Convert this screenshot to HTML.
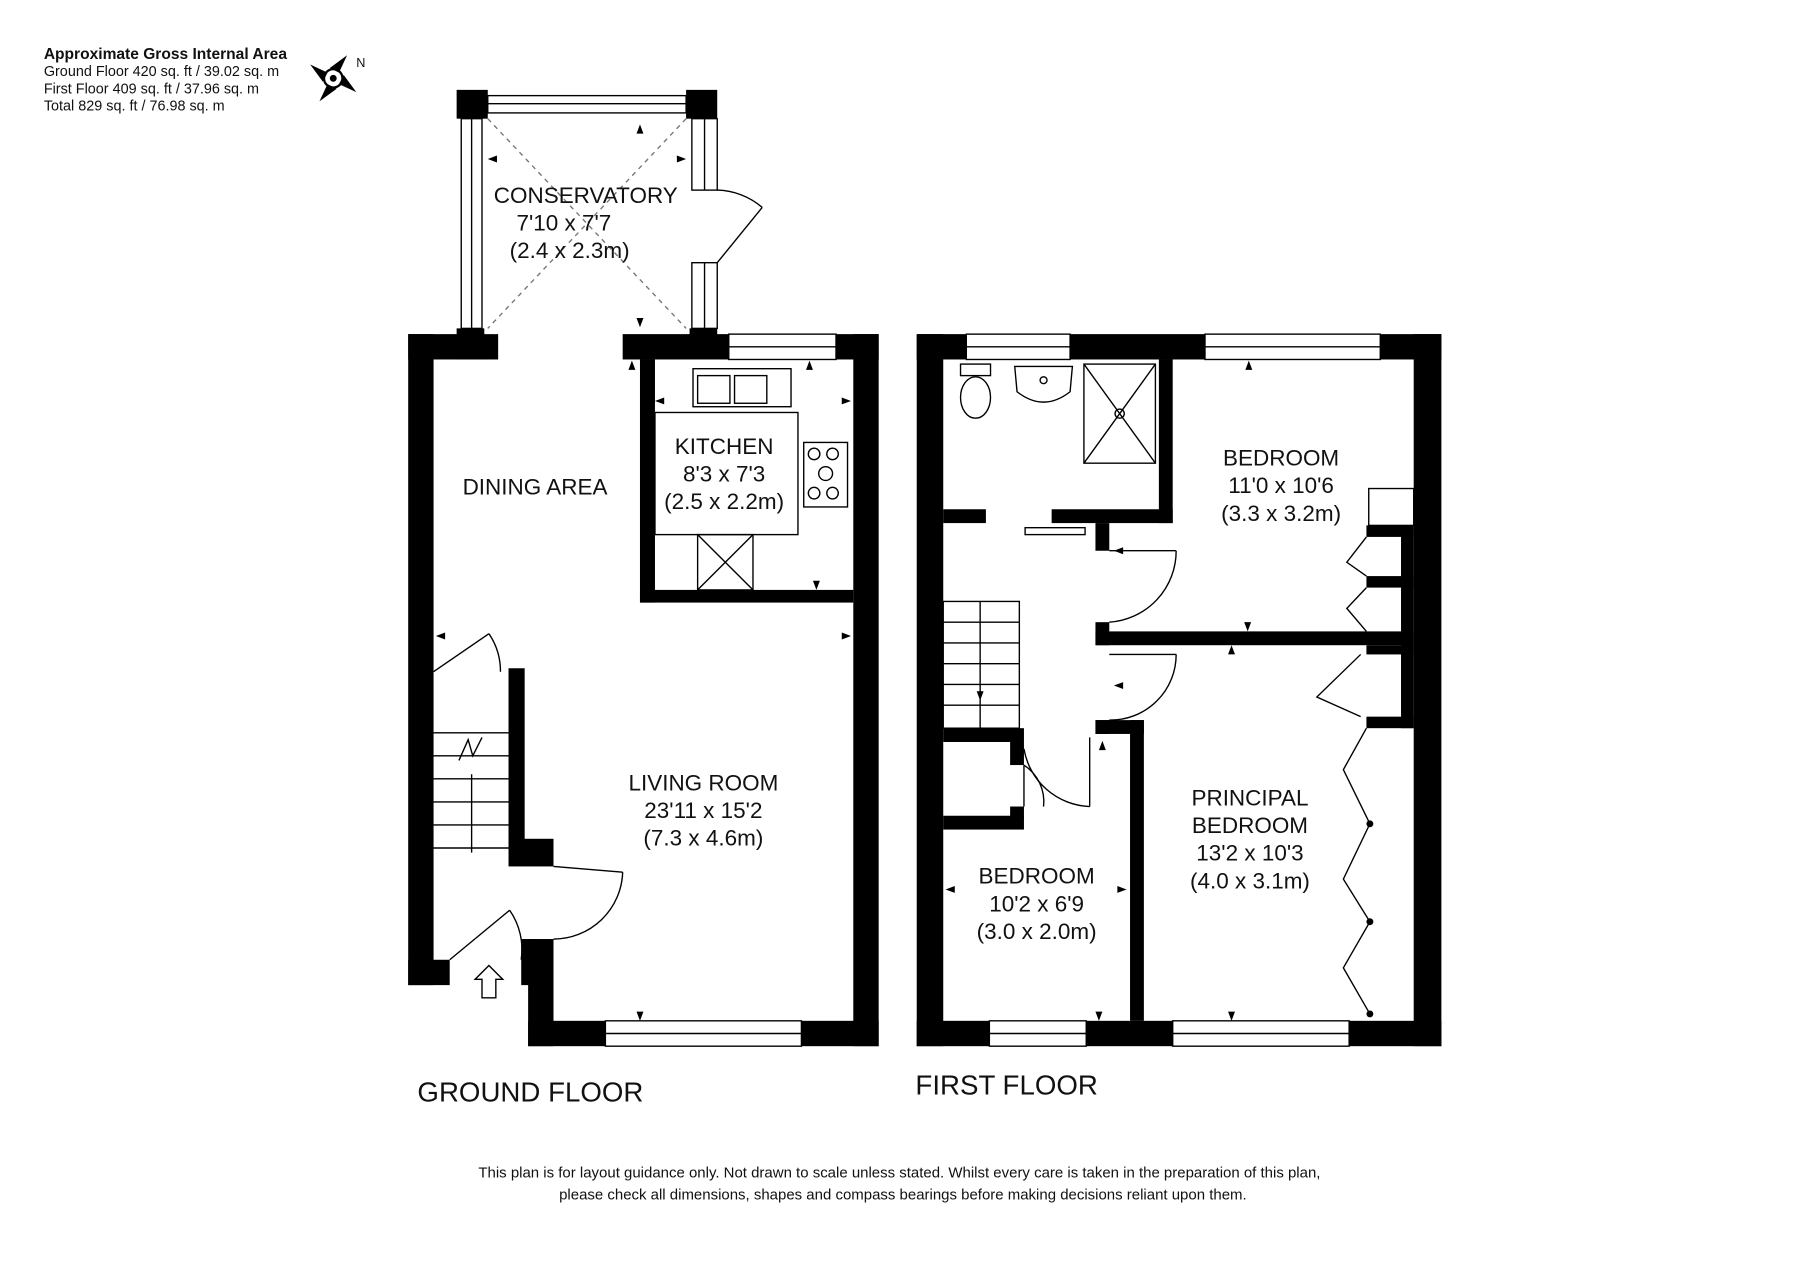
<!DOCTYPE html>
<html><head><meta charset="utf-8"><style>
html,body{margin:0;padding:0;background:#fff}
svg{display:block}
text{font-family:"Liberation Sans",sans-serif;fill:#111}
</style></head><body>
<svg width="1800" height="1272" viewBox="0 0 1561 1104" preserveAspectRatio="none" xmlns="http://www.w3.org/2000/svg">
<rect width="1561" height="1104" fill="#fff"/>
<text x="38" y="51" font-size="13.5" font-weight="bold">Approximate Gross Internal Area</text>
<text x="38" y="66" font-size="12.5">Ground Floor 420 sq. ft / 39.02 sq. m</text>
<text x="38" y="81" font-size="12.5">First Floor 409 sq. ft / 37.96 sq. m</text>
<text x="38" y="96" font-size="12.5">Total 829 sq. ft / 76.98 sq. m</text>
<g transform="translate(289,68)">
<circle r="8" fill="none" stroke="#000" stroke-width="2"/><circle r="3" fill="#000"/>
<path d="M-3,-9 L12,-20 L5,-5Z M3,9 L-12,20 L-5,5Z M-9,3 L-20,-12 L-5,-5Z M9,-3 L20,12 L5,5Z" fill="#000"/>
<text x="20" y="-10" font-size="11">N</text>
</g>
<g fill="#000">
<rect x="354" y="290" width="22" height="565"/>
<rect x="354" y="290" width="78" height="22"/>
<rect x="540" y="290" width="92" height="22"/>
<rect x="725" y="290" width="37" height="22"/>
<rect x="740" y="290" width="22" height="618"/>
<rect x="458" y="886" width="67" height="22"/>
<rect x="695" y="886" width="67" height="22"/>
<rect x="458" y="815" width="22" height="93"/>
<rect x="354" y="833" width="36" height="22"/>
<rect x="441" y="580" width="14" height="160"/>
<rect x="441" y="728" width="39" height="24"/>
<rect x="555" y="312" width="13" height="211"/>
<rect x="555" y="512" width="185" height="11"/>
<rect x="452" y="815" width="10" height="40"/>
<rect x="396" y="78" width="27" height="25"/>
<rect x="595" y="78" width="27" height="25"/>
<rect x="396" y="285" width="24" height="27"/>
<rect x="598" y="285" width="24" height="10"/>
<rect x="795" y="290" width="43" height="22"/>
<rect x="928" y="290" width="117" height="22"/>
<rect x="1197" y="290" width="53" height="22"/>
<rect x="795" y="290" width="23" height="618"/>
<rect x="1226" y="290" width="24" height="618"/>
<rect x="795" y="886" width="63" height="22"/>
<rect x="942" y="886" width="75" height="22"/>
<rect x="1170" y="886" width="80" height="22"/>
<rect x="818" y="442" width="37" height="12"/>
<rect x="912" y="442" width="105" height="12"/>
<rect x="1005" y="312" width="12" height="142"/>
<rect x="950" y="454" width="12" height="24"/>
<rect x="950" y="540" width="12" height="20"/>
<rect x="950" y="548" width="276" height="12"/>
<rect x="950" y="625" width="12" height="12"/>
<rect x="950" y="625" width="42" height="12"/>
<rect x="980" y="625" width="12" height="261"/>
<rect x="818" y="632" width="70" height="12"/>
<rect x="876" y="644" width="12" height="20"/>
<rect x="818" y="708" width="70" height="12"/>
<rect x="876" y="700" width="12" height="10"/>
<rect x="1185" y="456" width="41" height="10"/>
<rect x="1185" y="500" width="41" height="10"/>
<rect x="1185" y="560" width="41" height="8"/>
<rect x="1185" y="622" width="41" height="10"/>
<rect x="1215" y="456" width="11" height="176"/>
</g>
<g fill="none" stroke="#000" stroke-width="1.2">
<rect x="632" y="290" width="93" height="22"/><line x1="632" y1="301" x2="725" y2="301"/>
<rect x="525" y="886" width="170" height="22"/><line x1="525" y1="897" x2="695" y2="897"/>
<rect x="838" y="290" width="90" height="22"/><line x1="838" y1="301" x2="928" y2="301"/>
<rect x="1045" y="290" width="152" height="22"/><line x1="1045" y1="301" x2="1197" y2="301"/>
<rect x="858" y="886" width="84" height="22"/><line x1="858" y1="897" x2="942" y2="897"/>
<rect x="1017" y="886" width="153" height="22"/><line x1="1017" y1="897" x2="1170" y2="897"/>
<rect x="423" y="83" width="172" height="15"/><line x1="423" y1="90" x2="595" y2="90"/>
<rect x="400" y="103" width="18" height="182"/><line x1="409" y1="103" x2="409" y2="285"/>
<rect x="600" y="103" width="22" height="62"/><line x1="611" y1="103" x2="611" y2="165"/>
<rect x="600" y="228" width="22" height="57"/><line x1="611" y1="228" x2="611" y2="285"/>
<line x1="622" y1="228" x2="661" y2="180"/><path d="M622,165 A62,62 0 0 1 661,180"/>
<line x1="423" y1="103" x2="595" y2="285" stroke-dasharray="4,4" stroke="#777"/>
<line x1="595" y1="103" x2="423" y2="285" stroke-dasharray="4,4" stroke="#777"/>
<rect x="568" y="358" width="124" height="106"/>
<rect x="601" y="320" width="85" height="33"/><rect x="605" y="326" width="28" height="24"/><rect x="637" y="326" width="28" height="24"/>
<rect x="697" y="384" width="38" height="56"/>
<circle cx="706" cy="394" r="5"/><circle cx="722" cy="394" r="5"/><circle cx="716" cy="411" r="6"/><circle cx="706" cy="428" r="5"/><circle cx="722" cy="428" r="5"/>
<rect x="605" y="464" width="48" height="48"/><line x1="605" y1="464" x2="653" y2="512"/><line x1="653" y1="464" x2="605" y2="512"/>
<line x1="376" y1="636" x2="441" y2="636"/><line x1="376" y1="656" x2="441" y2="656"/><line x1="376" y1="676" x2="441" y2="676"/><line x1="376" y1="696" x2="441" y2="696"/><line x1="376" y1="716" x2="441" y2="716"/><line x1="376" y1="736" x2="441" y2="736"/>
<line x1="409" y1="672" x2="409" y2="740"/>
<path d="M398,660 L406,642 L410,656 L418,640"/>
<line x1="376" y1="583" x2="424" y2="550"/><path d="M424,550 A58,58 0 0 1 434,583"/>
<line x1="480" y1="752" x2="540" y2="757"/><path d="M540,757 A60,60 0 0 1 480,815"/>
<line x1="390" y1="833" x2="442" y2="790"/><path d="M442,790 A60,60 0 0 1 452,833"/>
<path d="M424,838 L412,850 L418,850 L418,866 L430,866 L430,850 L436,850Z"/>
<ellipse cx="846" cy="345" rx="13" ry="18"/><rect x="833" y="316" width="26" height="10"/>
<path d="M880,318 L930,318 L928,340 Q905,358 882,340Z"/><circle cx="905" cy="330" r="3"/>
<rect x="940" y="316" width="62" height="86"/><line x1="940" y1="316" x2="1002" y2="402"/><line x1="1002" y1="316" x2="940" y2="402"/><circle cx="971" cy="359" r="4"/>
<rect x="818" y="522" width="66" height="110"/>
<line x1="818" y1="540" x2="884" y2="540"/><line x1="818" y1="558" x2="884" y2="558"/><line x1="818" y1="576" x2="884" y2="576"/><line x1="818" y1="594" x2="884" y2="594"/><line x1="818" y1="612" x2="884" y2="612"/>
<line x1="850" y1="522" x2="850" y2="632"/>
<rect x="889" y="458" width="52" height="6"/>
<line x1="962" y1="478" x2="1020" y2="478"/><path d="M1020,478 A62,62 0 0 1 962,540"/>
<line x1="962" y1="568" x2="1020" y2="568"/><path d="M1020,568 A57,57 0 0 1 962,625"/>
<line x1="945" y1="640" x2="945" y2="700"/><path d="M888,650 A60,60 0 0 0 945,700"/>
<line x1="888" y1="664" x2="888" y2="700"/><path d="M888,664 A38,38 0 0 1 905,700"/>
<rect x="1187" y="424" width="39" height="32"/>
<path d="M1185,466 L1168,488 L1185,500"/><path d="M1185,510 L1168,528 L1185,548"/>
<path d="M1180,568 L1142,605 L1180,622"/>
<path d="M1185,632 L1165,668 L1188,715 L1165,763 L1188,800 L1165,840 L1188,880"/>
</g>
<g fill="#000">
<circle cx="1188" cy="715" r="3"/><circle cx="1188" cy="800" r="3"/><circle cx="1188" cy="880" r="3"/>
<path d="M548,313 l-3,8 h6z M702,313 l-3,8 h6z M1083,313 l-3,8 h6z M1082,548 l-3,-8 h6z M1068,560 l-3,8 h6z M555,108 l-3,8 h6z M555,284 l-3,-8 h6z M708,512 l-3,-8 h6z M555,886 l-3,-8 h6z M953,886 l-3,-8 h6z M1068,886 l-3,-8 h6z M850,608 l-3,-8 h6z M956,643 l-3,8 h6z M966,478 l8,-3 v6z M966,595 l8,-3 v6z M820,772 l8,-3 v6z M977,772 l-8,-3 v6z M378,552 l8,-3 v6z M738,552 l-8,-3 v6z M568,348 l8,-3 v6z M738,348 l-8,-3 v6z M423,138 l8,-3 v6z M595,138 l-8,-3 v6z"/>
</g>
<g text-anchor="middle" font-size="19.5">
<text x="508" y="176">CONSERVATORY</text><text x="489" y="200">7'10 x 7'7</text><text x="494" y="224">(2.4 x 2.3m)</text>
<text x="464" y="429">DINING AREA</text>
<text x="628" y="394">KITCHEN</text><text x="628" y="418">8'3 x 7'3</text><text x="628" y="442">(2.5 x 2.2m)</text>
<text x="610" y="686">LIVING ROOM</text><text x="610" y="710">23'11 x 15'2</text><text x="610" y="734">(7.3 x 4.6m)</text>
<text x="1111" y="404">BEDROOM</text><text x="1111" y="428">11'0 x 10'6</text><text x="1111" y="452">(3.3 x 3.2m)</text>
<text x="1084" y="699">PRINCIPAL</text><text x="1084" y="723">BEDROOM</text><text x="1084" y="747">13'2 x 10'3</text><text x="1084" y="771">(4.0 x 3.1m)</text>
<text x="899" y="767">BEDROOM</text><text x="899" y="791">10'2 x 6'9</text><text x="899" y="815">(3.0 x 2.0m)</text>
<text x="460" y="956" font-size="24">GROUND FLOOR</text>
<text x="873" y="950" font-size="24">FIRST FLOOR</text>
<text x="780" y="1022" font-size="13">This plan is for layout guidance only.  Not drawn to scale unless stated. Whilst every care is taken in the preparation of this plan,</text>
<text x="783" y="1041" font-size="13">please check all dimensions, shapes and compass bearings before making decisions reliant upon them.</text>
</g>
</svg>
</body></html>
